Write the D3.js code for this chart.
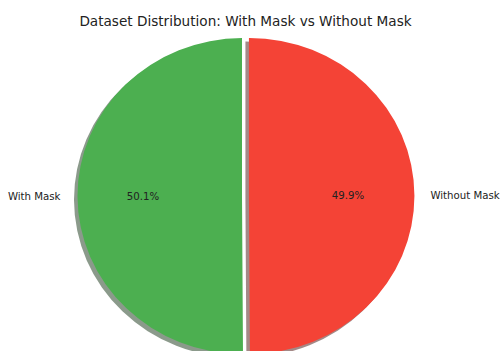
<!DOCTYPE html>
<html>
<head>
<meta charset="utf-8">
<script src="https://cdn.jsdelivr.net/npm/d3@7"></script>
<style>
  body { margin: 0; background: #fff; }
  text { font-family: "DejaVu Sans", sans-serif; fill: #222; }
</style>
</head>
<body>
<svg id="chart" width="501" height="351"></svg>
<script>
// data
var categories = ["With Mask", "Without Mask"];
var values = [50.1, 49.9];
var colors = ["#4CAF50", "#F44336"];
var explode = [0, 0.042];

var W = 501, H = 351;
var cx = 242, cy = 196;   // centre of the pie
var rx = 165, ry = 158;   // picture is slightly squashed vertically
var shadowDx = -3.5, shadowDy = 3.5;

var svg = d3.select("#chart");

svg.append("text")
  .attr("x", 245.5)
  .attr("y", 25.5)
  .attr("text-anchor", "middle")
  .style("font-size", "13.6px")
  .text("Dataset Distribution: With Mask vs Without Mask");

// matplotlib style: start at the top, go counter-clockwise
var pie = d3.pie().sort(null).startAngle(0).endAngle(-2 * Math.PI);
var arcs = pie(values);
var arc = d3.arc().innerRadius(0).outerRadius(1);

function offset(d, i) {
  var mid = (d.startAngle + d.endAngle) / 2;
  return [Math.sin(mid) * explode[i] * rx, -Math.cos(mid) * explode[i] * ry];
}

function darker(c) {
  var rgb = d3.rgb(c);
  return d3.rgb(rgb.r * 0.3, rgb.g * 0.3, rgb.b * 0.3).toString();
}

// shadows first
svg.append("g").selectAll("path")
  .data(arcs)
  .join("path")
  .attr("transform", function(d, i) {
    var o = offset(d, i);
    return "translate(" + (cx + o[0] + shadowDx) + "," + (cy + o[1] + shadowDy) + ") scale(" + rx + "," + ry + ")";
  })
  .attr("d", arc)
  .attr("fill", function(d, i) { return darker(colors[i]); })
  .attr("fill-opacity", 0.5);

svg.append("g").selectAll("path")
  .data(arcs)
  .join("path")
  .attr("transform", function(d, i) {
    var o = offset(d, i);
    return "translate(" + (cx + o[0]) + "," + (cy + o[1]) + ") scale(" + rx + "," + ry + ")";
  })
  .attr("d", arc)
  .attr("fill", function(d, i) { return colors[i]; });

// category labels (1.1 r) and percentages (0.6 r)
arcs.forEach(function(d, i) {
  var o = offset(d, i);
  var mid = (d.startAngle + d.endAngle) / 2;
  var sx = Math.sin(mid), sy = -Math.cos(mid);
  svg.append("text")
    .attr("x", cx + o[0] + sx * 1.1 * rx)
    .attr("y", cy + o[1] + sy * 1.1 * ry)
    .attr("text-anchor", sx < 0 ? "end" : "start")
    .attr("dominant-baseline", "central")
    .style("font-size", "10.2px")
    .text(categories[i]);
  svg.append("text")
    .attr("x", cx + o[0] + sx * 0.6 * rx)
    .attr("y", cy + o[1] + sy * 0.6 * ry)
    .attr("text-anchor", "middle")
    .attr("dominant-baseline", "central")
    .style("font-size", "10.2px")
    .text(d3.format(".1f")(values[i]) + "%");
});
</script>
</body>
</html>
